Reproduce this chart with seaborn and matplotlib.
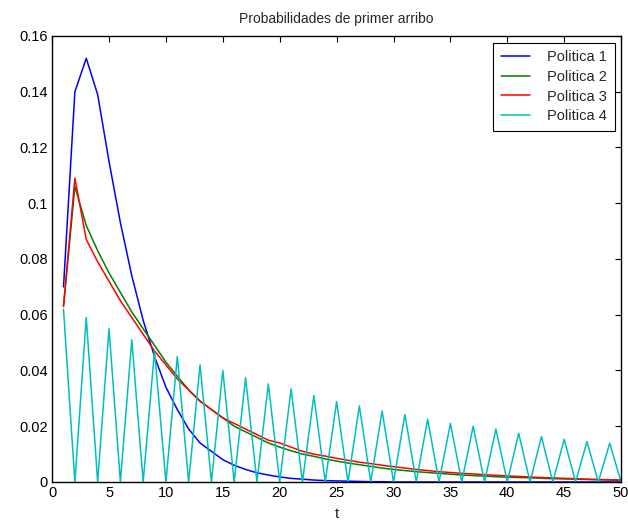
import numpy as np
import pandas as pd
import matplotlib
matplotlib.use("Agg")
import matplotlib.pyplot as plt
import seaborn as sns

# ==========================================================
# DATA
# ==========================================================

t = list(range(1, 51))

politica_1 = [0.070, 0.140, 0.152, 0.139, 0.115, 0.093, 0.074, 0.058, 0.045, 0.034,
              0.026, 0.019, 0.014, 0.011, 0.008, 0.006, 0.0045, 0.0033, 0.0025, 0.0018,
              0.0013, 0.0010, 0.0007, 0.0005, 0.0004, 0.0003, 0.0002, 0.0001, 0.0001, 0.0,
              0.0, 0.0, 0.0, 0.0, 0.0, 0.0, 0.0, 0.0, 0.0, 0.0,
              0.0, 0.0, 0.0, 0.0, 0.0, 0.0, 0.0, 0.0, 0.0, 0.0]

politica_2 = [0.063, 0.106, 0.092, 0.083, 0.075, 0.068, 0.061, 0.055, 0.049, 0.043,
              0.038, 0.033, 0.029, 0.026, 0.023, 0.020, 0.018, 0.016, 0.014, 0.0125,
              0.0112, 0.010, 0.0092, 0.0083, 0.0075, 0.0068, 0.0062, 0.0056, 0.0050, 0.0045,
              0.0041, 0.0037, 0.0034, 0.0031, 0.0028, 0.0025, 0.0023, 0.0021, 0.0019, 0.0017,
              0.0016, 0.0015, 0.0013, 0.0012, 0.0011, 0.0010, 0.0009, 0.0008, 0.0007, 0.0006]

politica_3 = [0.063, 0.109, 0.087, 0.079, 0.072, 0.065, 0.059, 0.053, 0.047, 0.042,
              0.037, 0.033, 0.029, 0.026, 0.023, 0.021, 0.019, 0.017, 0.015, 0.014,
              0.0125, 0.011, 0.010, 0.0093, 0.0085, 0.0078, 0.0071, 0.0066, 0.0060, 0.0055,
              0.0050, 0.0045, 0.0041, 0.0037, 0.0034, 0.0031, 0.0029, 0.0026, 0.0024, 0.0022,
              0.0020, 0.0018, 0.0016, 0.0015, 0.0013, 0.0012, 0.0010, 0.0009, 0.0008, 0.0007]

politica_4 = [0.062, 0.0, 0.059, 0.0, 0.055, 0.0, 0.051, 0.0, 0.047, 0.0,
              0.045, 0.0, 0.042, 0.0, 0.040, 0.0, 0.0374, 0.0, 0.0352, 0.0,
              0.0334, 0.0, 0.031, 0.0, 0.0288, 0.0, 0.0273, 0.0, 0.0255, 0.0,
              0.0242, 0.0, 0.0225, 0.0, 0.0210, 0.0, 0.0200, 0.0, 0.0190, 0.0,
              0.0175, 0.0, 0.0163, 0.0, 0.0153, 0.0, 0.0145, 0.0, 0.0139, 0.0]

labels = ["Politica 1", "Politica 2", "Politica 3", "Politica 4"]
colors = ["#0000ff", "#008000", "#ff0000", "#00bfbf"]
x_ticks = [0, 5, 10, 15, 20, 25, 30, 35, 40, 45, 50]
y_ticks = [0, 0.02, 0.04, 0.06, 0.08, 0.1, 0.12, 0.14, 0.16]
y_tick_labels = ["0", "0.02", "0.04", "0.06", "0.08", "0.1", "0.12", "0.14", "0.16"]

# ==========================================================
# PLOT
# ==========================================================

df = pd.DataFrame({
    "t": t * 4,
    "p": politica_1 + politica_2 + politica_3 + politica_4,
    "politica": sum([[lab] * len(t) for lab in labels], []),
})

sns.set_style("white")
plt.rcParams["font.family"] = ["Liberation Sans", "DejaVu Sans"]

fig = plt.figure(figsize=(6.28, 5.27), dpi=100)
ax = fig.add_axes([0.083, 0.0854, 0.906, 0.8463])

sns.lineplot(data=df, x="t", y="p", hue="politica", hue_order=labels,
             palette=colors, linewidth=1.1, ax=ax, legend=False)

ax.set_xlim(0, 50)
ax.set_ylim(0, 0.16)
ax.set_xticks(x_ticks)
ax.set_xticklabels([str(v) for v in x_ticks])
ax.set_yticks(y_ticks)
ax.set_yticklabels(y_tick_labels)
ax.tick_params(direction="in", length=4, width=0.8, top=True, right=True,
               labelsize=10.5, colors="black", pad=3)
for side in ax.spines.values():
    side.set_color("black")
    side.set_linewidth(1.0)

ax.set_xlabel("t", fontsize=11, labelpad=5)
ax.set_ylabel("")
ax.set_title("Probabilidades de primer arribo", fontsize=10, pad=9)

handles = [plt.Line2D([], [], color=c, linewidth=1.1) for c in colors]
leg = ax.legend(handles, labels, loc="upper right", fontsize=10.5, frameon=True,
                fancybox=False, edgecolor="black", framealpha=1,
                handlelength=2.0, handletextpad=1.2, borderpad=0.5,
                labelspacing=0.4, borderaxespad=0.45)
leg.get_frame().set_linewidth(0.8)

fig.savefig("out.png", dpi=100)
